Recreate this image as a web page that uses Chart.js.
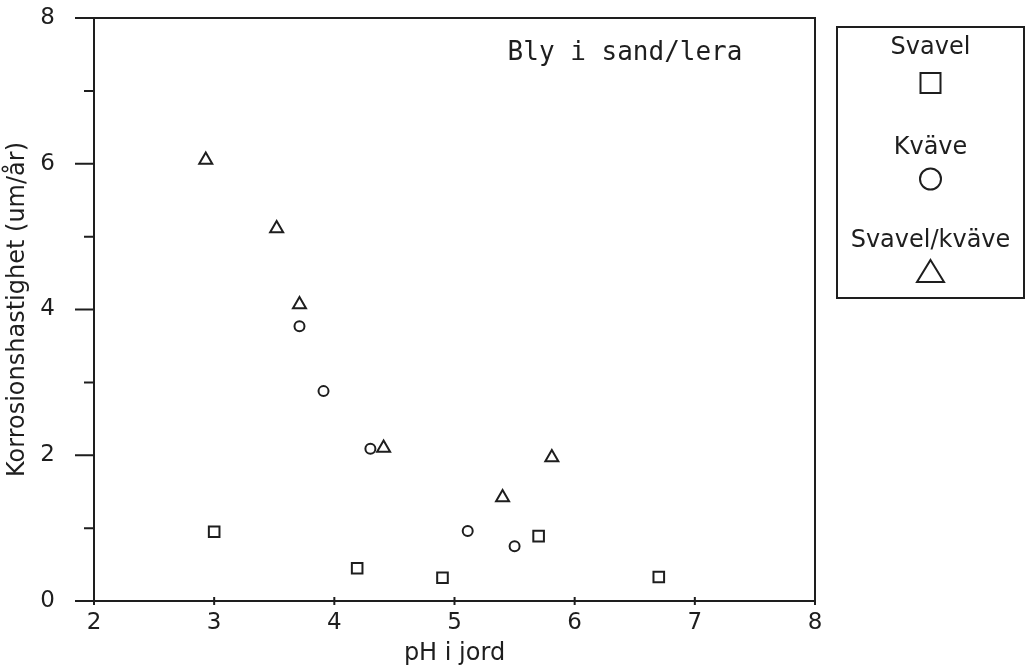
<!DOCTYPE html>
<html>
<head>
<meta charset="utf-8">
<script src="https://cdn.jsdelivr.net/npm/chart.js@4/dist/chart.umd.min.js"></script>
<style>
  html, body { margin: 0; padding: 0; background: #fff; }
  #wrap { width: 1029px; height: 670px; }
</style>
</head>
<body>
<div id="wrap"><canvas id="c" width="1029" height="670"></canvas></div>
<script>
// Corrosion rate of lead in sand/clay versus soil pH
const seriesNames = ['Svavel', 'Kväve', 'Svavel/kväve'];
const phSvavel = [3.0, 4.19, 4.9, 5.7, 6.7];
const rateSvavel = [0.95, 0.45, 0.32, 0.89, 0.33];
const phKvave = [3.71, 3.91, 4.3, 5.11, 5.5];
const rateKvave = [3.77, 2.88, 2.09, 0.96, 0.75];
const phMix = [2.93, 3.52, 3.71, 4.41, 5.4, 5.81];
const rateMix = [6.05, 5.11, 4.07, 2.1, 1.42, 1.97];
const xTicks = [2, 3, 4, 5, 6, 7, 8];
const yTicks = [0, 1, 2, 3, 4, 5, 6, 7, 8];
const yLabelled = [0, 2, 4, 6, 8];
const noteText = 'Bly i sand/lera';
const xTitle = 'pH i jord';
const yTitle = 'Korrosionshastighet (um/år)';

const INK = '#1e1e1e';
const SANS = '"DejaVu Sans", sans-serif';

function pts(xs, ys) { return xs.map((x, i) => ({ x: x, y: ys[i] })); }

// Frame, tick marks, note and the stacked legend box
const framePlugin = {
  id: 'frame',
  afterDraw(chart) {
    const ctx = chart.ctx;
    const a = chart.chartArea;
    const xs = chart.scales.x, ys = chart.scales.y;
    ctx.save();
    ctx.strokeStyle = INK;
    ctx.lineWidth = 2;
    ctx.strokeRect(a.left, a.top, a.right - a.left, a.bottom - a.top);

    ctx.beginPath();
    yTicks.forEach(v => {
      const py = ys.getPixelForValue(v);
      const len = (v % 2 === 0) ? 19 : 10;
      ctx.moveTo(a.left - len, py);
      ctx.lineTo(a.left, py);
    });
    xTicks.forEach(v => {
      const px = xs.getPixelForValue(v);
      ctx.moveTo(px, a.bottom - 4);
      ctx.lineTo(px, a.bottom + 4);
    });
    ctx.stroke();

    // note in the upper right of the plot
    ctx.fillStyle = INK;
    ctx.font = '26px "DejaVu Sans Mono", monospace';
    ctx.textAlign = 'center';
    ctx.textBaseline = 'middle';
    ctx.fillText(noteText, 625, 53);

    // legend box
    const L = { x: 837, y: 27, w: 187, h: 271 };
    ctx.strokeRect(L.x, L.y, L.w, L.h);
    const cx = L.x + L.w / 2;
    const rows = [
      { text: 48, mark: 83 },
      { text: 148, mark: 179 },
      { text: 241, mark: 272 }
    ];
    ctx.font = '24px ' + SANS;
    ctx.lineWidth = 2;
    chart.data.datasets.forEach((ds, i) => {
      const r = rows[i];
      ctx.fillStyle = INK;
      ctx.fillText(ds.label, cx, r.text);
      ctx.beginPath();
      if (ds.pointStyle === 'rect') {
        ctx.rect(cx - 10, r.mark - 10, 20, 20);
      } else if (ds.pointStyle === 'circle') {
        ctx.arc(cx, r.mark, 10.5, 0, Math.PI * 2);
      } else {
        ctx.moveTo(cx, r.mark - 12);
        ctx.lineTo(cx + 13.5, r.mark + 10);
        ctx.lineTo(cx - 13.5, r.mark + 10);
        ctx.closePath();
      }
      ctx.stroke();
    });
    ctx.restore();
  }
};

const mark = { showLine: false, backgroundColor: 'rgba(0,0,0,0)', borderColor: INK,
               pointBorderColor: INK, pointBackgroundColor: 'rgba(0,0,0,0)', pointBorderWidth: 2 };

new Chart(document.getElementById('c'), {
  type: 'scatter',
  data: {
    datasets: [
      Object.assign({ label: seriesNames[0], data: pts(phSvavel, rateSvavel), pointStyle: 'rect', pointRadius: 7.5 }, mark),
      Object.assign({ label: seriesNames[1], data: pts(phKvave, rateKvave), pointStyle: 'circle', pointRadius: 5 }, mark),
      Object.assign({ label: seriesNames[2], data: pts(phMix, rateMix), pointStyle: 'triangle', pointRadius: 7.5 }, mark)
    ]
  },
  options: {
    responsive: false,
    animation: false,
    events: [],
    layout: { padding: { top: 18, right: 214, left: 0, bottom: 0 } },
    plugins: { legend: { display: false }, tooltip: { enabled: false } },
    scales: {
      x: {
        type: 'linear', min: 2, max: 8,
        afterFit(s) { s.height = 69; s.paddingLeft = 0; s.paddingRight = 0; },
        afterBuildTicks(s) { s.ticks = xTicks.map(v => ({ value: v })); },
        grid: { display: false, drawTicks: false },
        border: { display: false },
        ticks: { color: INK, font: { family: SANS, size: 23 }, padding: 8, maxRotation: 0 },
        title: { display: true, text: xTitle, color: INK, font: { family: SANS, size: 24 }, padding: { top: 0, bottom: 2 } }
      },
      y: {
        type: 'linear', min: 0, max: 8,
        afterFit(s) { s.width = 94; s.paddingTop = 0; s.paddingBottom = 0; },
        afterBuildTicks(s) { s.ticks = yLabelled.map(v => ({ value: v })); },
        grid: { display: false, drawTicks: false },
        border: { display: false },
        ticks: { color: INK, font: { family: SANS, size: 23 }, padding: 39 },
        title: { display: true, text: yTitle, color: INK, font: { family: SANS, size: 24 }, padding: { top: 3, bottom: 0 } }
      }
    }
  },
  plugins: [framePlugin]
});
</script>
</body>
</html>
